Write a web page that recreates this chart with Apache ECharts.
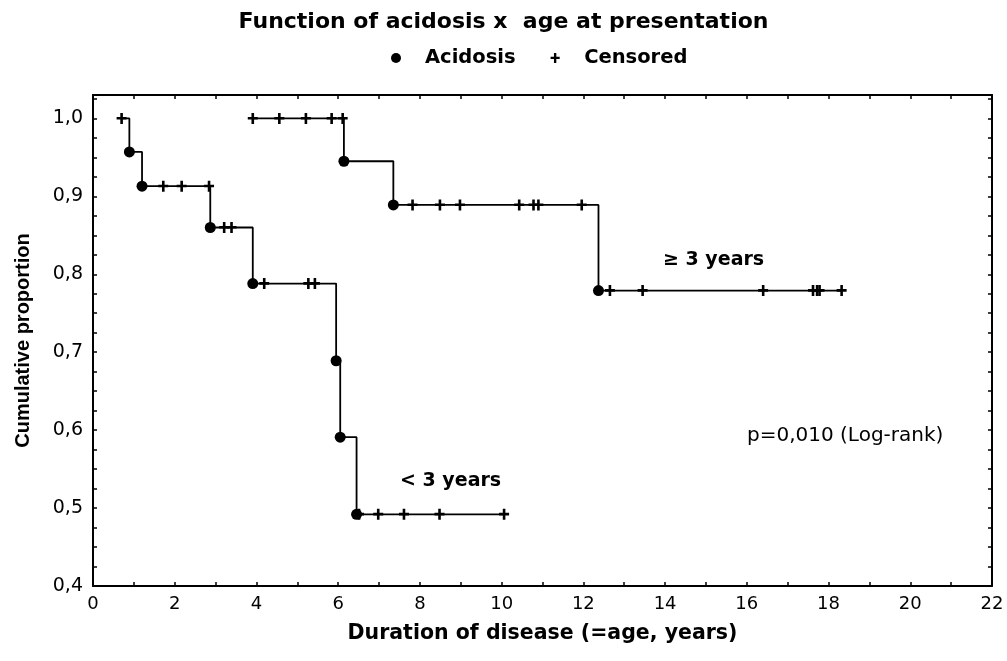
<!DOCTYPE html>
<html>
<head>
<meta charset="utf-8">
<title>Function of acidosis x age at presentation</title>
<script src="https://cdn.jsdelivr.net/npm/echarts@6/dist/echarts.min.js"></script>
<style>
	html, body {margin: 0; padding: 0; background: #fff;}
	#chart {width: 1007px; height: 661px;}
</style>
</head>
<body>
<div id="chart"></div>
<script>
// < 3 years: 事件(时间, 累积比例)
var youngEvents = [[0.89, 0.957], [1.20, 0.913], [2.87, 0.860], [3.91, 0.788], [5.95, 0.689], [6.05, 0.591], [6.45, 0.492]];
// < 3 years: 删失时间
var youngCensored = [0.70, 1.72, 2.17, 2.84, 3.21, 3.39, 4.19, 5.27, 5.43, 6.51, 6.98, 7.61, 8.48, 10.06];

// >= 3 years
var oldEvents = [[6.14, 0.945], [7.35, 0.889], [12.37, 0.779]];
var oldCensored = [3.91, 4.56, 5.21, 5.84, 6.11, 7.82, 8.49, 8.98, 10.43, 10.78, 10.90, 11.96, 12.65, 13.45, 16.40, 17.62, 17.72, 17.78, 18.32];

var xTicks = [0, 2, 4, 6, 8, 10, 12, 14, 16, 18, 20, 22];
var yTicks = ['0,4', '0,5', '0,6', '0,7', '0,8', '0,9', '1,0'];

var plusPath = 'path://M0,4L10,4L10,6.6L0,6.6Z M3.7,0L6.3,0L6.3,11L3.7,11Z';
var numFont = 'DejaVu Sans';

/**
 * 某时间点的累积比例(阶梯)
 */
function survivalAt(events, t) {
	var v = 1.0;
	for (var i = 0; i < events.length; i++) {
		if (events[i][0] <= t) {
			v = events[i][1];
		}
	}
	return v;
}

/**
 * 阶梯线数据: 起点 + 事件 + 终点
 */
function stepLine(events, censored) {
	var start = Math.min(events[0][0], censored[0]);
	var end = Math.max(events[events.length - 1][0], censored[censored.length - 1]);
	var arr = [[start, 1.0]];
	for (var i = 0; i < events.length; i++) {
		arr.push(events[i]);
	}
	arr.push([end, survivalAt(events, end)]);
	return arr;
}

function censoredPoints(events, censored) {
	var arr = [];
	for (var i = 0; i < censored.length; i++) {
		arr.push([censored[i], survivalAt(events, censored[i])]);
	}
	return arr;
}

var chart = echarts.init(document.getElementById('chart'));

var axisLineStyle = {show: true, onZero: false, lineStyle: {color: '#000', width: 2}};
var tickStyle = {show: true, inside: true, length: 4, lineStyle: {color: '#000', width: 1.5}};
var markStyle = {color: '#000', opacity: 1};

var option = {
	backgroundColor: '#fff',
	animation: false,
	title: {
		text: 'Function of acidosis x  age at presentation',
		left: 'center',
		top: 6,
		textStyle: {fontFamily: numFont, fontWeight: 'bold', fontSize: 22, color: '#000'}
	},
	legend: {
		left: 386,
		top: 43,
		itemWidth: 10,
		itemHeight: 10,
		itemGap: 35,
		selectedMode: false,
		data: [
			{name: 'Acidosis', icon: 'circle', itemStyle: markStyle},
			{name: 'Censored', icon: plusPath, itemStyle: markStyle}
		],
		formatter: function (name) {
			return '{t|' + name + '}';
		},
		textStyle: {
			rich: {
				t: {fontFamily: numFont, fontWeight: 'bold', fontSize: 19.5, color: '#000', padding: [0, 0, 0, 19]}
			}
		}
	},
	grid: {left: 93, right: 15, top: 95, bottom: 75},
	xAxis: [
		{
			type: 'value',
			min: 0,
			max: 22,
			interval: 1,
			name: 'Duration of disease (=age, years)',
			nameLocation: 'middle',
			nameGap: 37,
			nameTextStyle: {fontFamily: numFont, fontWeight: 'bold', fontSize: 20.5, color: '#000'},
			axisLine: axisLineStyle,
			axisTick: tickStyle,
			splitLine: {show: false},
			axisLabel: {
				margin: 9,
				fontFamily: numFont,
				fontSize: 18,
				color: '#000',
				formatter: function (v) {
					return xTicks.indexOf(v) >= 0 ? String(v) : '';
				}
			}
		},
		{
			type: 'value',
			position: 'top',
			min: 0,
			max: 22,
			interval: 1,
			axisLine: axisLineStyle,
			axisTick: tickStyle,
			splitLine: {show: false},
			axisLabel: {show: false}
		}
	],
	yAxis: [
		{
			type: 'value',
			min: 0.4,
			max: 1.03,
			interval: 0.025,
			name: 'Cumulative proportion',
			nameLocation: 'middle',
			nameGap: 60,
			nameTextStyle: {fontFamily: 'Liberation Sans', fontWeight: 'bold', fontSize: 20, color: '#000'},
			axisLine: axisLineStyle,
			axisTick: tickStyle,
			splitLine: {show: false},
			axisLabel: {
				margin: 10,
				fontFamily: numFont,
				fontSize: 19,
				color: '#000',
				formatter: function (v) {
					var r = Math.round(v * 10);
					if (Math.abs(v * 10 - r) > 1e-6) {
						return '';
					}
					var s = (r / 10).toFixed(1).replace('.', ',');
					return yTicks.indexOf(s) >= 0 ? s : '';
				}
			}
		},
		{
			type: 'value',
			position: 'right',
			min: 0.4,
			max: 1.03,
			interval: 0.025,
			axisLine: axisLineStyle,
			axisTick: tickStyle,
			splitLine: {show: false},
			axisLabel: {show: false}
		}
	],
	series: [
		{
			name: '< 3 years',
			type: 'line',
			step: 'end',
			showSymbol: false,
			lineStyle: {color: '#000', width: 1.8},
			data: stepLine(youngEvents, youngCensored)
		},
		{
			name: '>= 3 years',
			type: 'line',
			step: 'end',
			showSymbol: false,
			lineStyle: {color: '#000', width: 1.8},
			data: stepLine(oldEvents, oldCensored)
		},
		{
			name: 'Acidosis',
			type: 'scatter',
			symbol: 'circle',
			symbolSize: 11,
			itemStyle: markStyle,
			data: youngEvents
		},
		{
			name: 'Acidosis',
			type: 'scatter',
			symbol: 'circle',
			symbolSize: 11,
			itemStyle: markStyle,
			data: oldEvents
		},
		{
			name: 'Censored',
			type: 'scatter',
			symbol: plusPath,
			symbolSize: [10, 11],
			itemStyle: markStyle,
			data: censoredPoints(youngEvents, youngCensored)
		},
		{
			name: 'Censored',
			type: 'scatter',
			symbol: plusPath,
			symbolSize: [10, 11],
			itemStyle: markStyle,
			data: censoredPoints(oldEvents, oldCensored)
		}
	],
	graphic: [
		{
			type: 'text',
			left: 400,
			top: 472,
			style: {text: '< 3 years', fontFamily: numFont, fontWeight: 'bold', fontSize: 19, fill: '#000'}
		},
		{
			type: 'text',
			left: 663,
			top: 251,
			style: {text: '\u2265 3 years', fontFamily: numFont, fontWeight: 'bold', fontSize: 19, fill: '#000'}
		},
		{
			type: 'text',
			left: 747,
			top: 426,
			style: {text: 'p=0,010 (Log-rank)', fontFamily: numFont, fontSize: 20, fill: '#000'}
		}
	]
};

chart.setOption(option);
</script>
</body>
</html>
